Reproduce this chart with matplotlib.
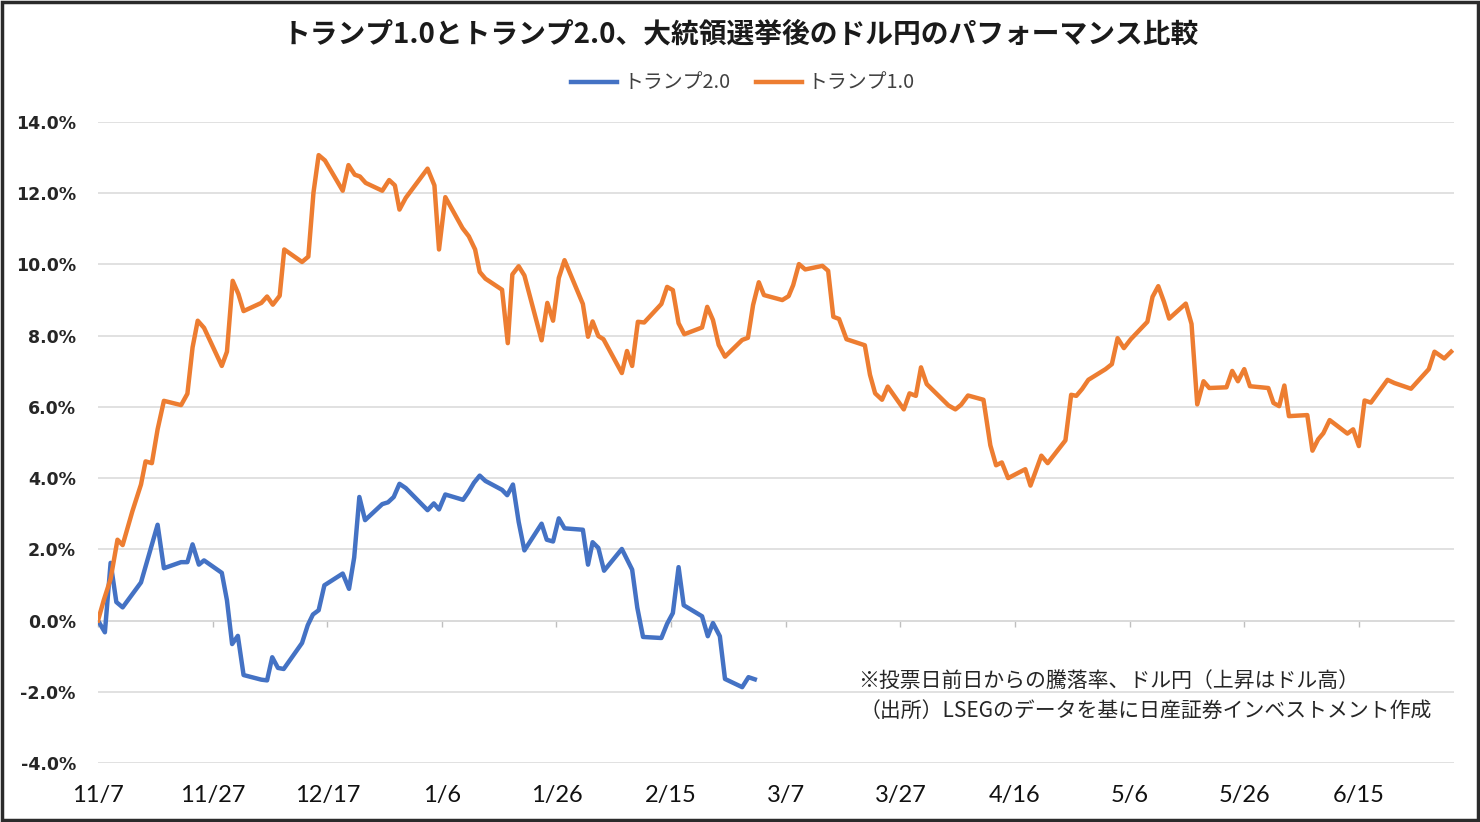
import numpy as np
import matplotlib
matplotlib.use("Agg")
import matplotlib.pyplot as plt
from matplotlib.patches import Rectangle

# Days elapsed since 11/7 and percent change of USD/JPY
trump1_days = [
    0.0, 1.0, 2.2, 3.4, 4.3, 6.0, 7.5, 8.3, 9.4, 10.4, 11.5, 14.5, 15.6, 16.5, 17.4, 18.5,
    21.6, 22.5, 23.5, 24.5, 25.4, 28.5, 29.5, 30.5, 31.7, 32.5, 35.6, 36.7, 37.6, 38.5,
    39.6, 42.7, 43.7, 44.8, 45.7, 46.7, 49.6, 50.8, 51.8, 52.6, 53.7, 57.5, 58.7, 59.5,
    60.6, 63.6, 64.7, 65.8, 66.6, 67.6, 70.5, 71.5, 72.3, 73.4, 74.4, 77.4, 78.4, 79.4,
    80.4, 81.4, 84.6, 85.5, 86.3, 87.3, 88.2, 91.4, 92.3, 93.2, 94.2, 95.3, 98.3, 99.3,
    100.3, 101.3, 102.3, 105.4, 106.3, 107.3, 108.3, 109.4, 112.4, 113.4, 114.3, 115.3,
    116.2, 119.4, 120.5, 121.3, 122.3, 123.4, 126.4, 127.4, 128.3, 129.3, 130.6, 133.8,
    134.7, 135.6, 136.8, 137.8, 140.6, 141.6, 142.7, 143.6, 144.6, 148.4, 149.6, 150.6,
    151.8, 154.5, 155.7, 156.7, 157.7, 158.8, 161.8, 162.7, 164.6, 165.7, 168.8, 169.8,
    170.7, 171.7, 172.8, 175.8, 176.9, 177.9, 179.0, 180.2, 183.1, 184.0, 185.0, 186.0,
    186.9, 189.8, 190.8, 191.8, 192.9, 193.9, 196.9, 197.9, 198.9, 200.0, 201.0, 204.2,
    205.1, 206.1, 207.0, 207.8, 211.0, 211.9, 212.9, 213.8, 214.9, 218.0, 219.0, 220.0,
    221.0, 222.1, 225.0, 226.2, 229.1, 232.2, 233.2, 234.9, 236.1,
]
trump1_pct = [
    0.00, 0.57, 1.17, 2.27, 2.12, 3.07, 3.82, 4.47, 4.42, 5.37, 6.17, 6.05, 6.37, 7.67, 8.42, 8.22,
    7.15, 7.55, 9.54, 9.17, 8.69, 8.92, 9.10, 8.87, 9.12, 10.42, 10.07, 10.22, 12.02, 13.07,
    12.92, 12.07, 12.79, 12.52, 12.47, 12.29, 12.07, 12.37, 12.22, 11.54, 11.87, 12.69, 12.22, 10.42,
    11.89, 11.02, 10.79, 10.42, 9.79, 9.60, 9.29, 7.79, 9.72, 9.95, 9.69, 7.87, 8.92, 8.42,
    9.62, 10.12, 8.89, 7.97, 8.40, 7.99, 7.90, 6.95, 7.57, 7.15, 8.39, 8.37, 8.89, 9.37,
    9.28, 8.35, 8.04, 8.23, 8.81, 8.44, 7.74, 7.41, 7.88, 7.94, 8.86, 9.50,
    9.14, 9.00, 9.11, 9.42, 10.01, 9.86, 9.96, 9.82, 8.53, 8.47, 7.90, 7.73,
    6.90, 6.38, 6.20, 6.57, 5.93, 6.38, 6.31, 7.11, 6.64, 6.04, 5.93, 6.06,
    6.32, 6.20, 4.92, 4.36, 4.44, 4.00, 4.25, 3.79, 4.63, 4.42, 5.06, 6.34,
    6.31, 6.50, 6.76, 7.06, 7.20, 7.93, 7.65, 7.90, 8.39, 9.09, 9.39, 8.95,
    8.48, 8.90, 8.33, 6.07, 6.72, 6.53, 6.55, 7.01, 6.72, 7.06, 6.58, 6.53,
    6.11, 6.02, 6.60, 5.74, 5.77, 4.77, 5.09, 5.26, 5.63, 5.25, 5.37, 4.90,
    6.18, 6.12, 6.76, 6.67, 6.51, 7.06, 7.55, 7.36, 7.55,
]

trump2_days = [
    0.0, 1.2, 2.2, 3.2, 4.3, 7.5, 10.4, 11.5, 14.5, 15.6, 16.5, 17.6, 18.5, 21.6, 22.5, 23.4,
    24.4, 25.4, 28.5, 29.5, 30.4, 31.4, 32.4, 35.6, 36.6, 37.5, 38.5, 39.5, 42.7, 43.8,
    44.7, 45.6, 46.6, 49.6, 50.6, 51.6, 52.6, 53.7, 57.5, 58.6, 59.5, 60.6, 63.7, 64.6,
    65.6, 66.6, 67.6, 70.5, 71.4, 72.4, 73.4, 74.4, 77.4, 78.3, 79.4, 80.4, 81.4, 84.6,
    85.5, 86.3, 87.3, 88.3, 91.4, 93.2, 94.1, 95.1, 98.3, 99.3, 100.3, 101.3, 102.2, 105.4,
    106.4, 107.3, 108.5, 109.4, 112.4, 113.5, 114.6,
]
trump2_pct = [
    0.00, -0.33, 1.62, 0.52, 0.37, 1.07, 2.69, 1.47, 1.64, 1.64, 2.14, 1.57, 1.69, 1.34, 0.57, -0.66,
    -0.43, -1.53, -1.66, -1.68, -1.03, -1.33, -1.36, -0.63, -0.13, 0.17, 0.29, 0.99, 1.32, 0.89,
    1.77, 3.47, 2.82, 3.27, 3.32, 3.47, 3.84, 3.72, 3.10, 3.29, 3.12, 3.54, 3.39, 3.60,
    3.87, 4.07, 3.92, 3.67, 3.52, 3.82, 2.77, 1.97, 2.72, 2.27, 2.22, 2.87, 2.59, 2.55,
    1.57, 2.20, 2.04, 1.40, 2.01, 1.43, 0.36, -0.46, -0.49, -0.09, 0.21, 1.50, 0.43, 0.12,
    -0.44, -0.07, -0.44, -1.64, -1.87, -1.59, -1.65,
]

tick_days = [0, 20, 40, 60, 80, 100, 120, 140, 160, 180, 200, 220]
tick_labels = ["11/7", "11/27", "12/17", "1/6", "1/26", "2/15", "3/7", "3/27",
               "4/16", "5/6", "5/26", "6/15"]
y_ticks = [-4, -2, 0, 2, 4, 6, 8, 10, 12, 14]

title = "トランプ1.0とトランプ2.0、大統領選挙後のドル円のパフォーマンス比較"
note1 = "※投票日前日からの騰落率、ドル円（上昇はドル高）"
note2 = "（出所）LSEGのデータを基に日産証券インベストメント作成"

jp = ["Noto Sans CJK JP", "DejaVu Sans"]
W, H = 1480, 822

fig = plt.figure(figsize=(W / 100, H / 100), dpi=100)
ax = fig.add_axes([98 / W, 1 - 763 / H, (1454 - 98) / W, (763 - 122) / H])

ax.plot(trump2_days, trump2_pct, color="#4472C4", lw=3.2, label="トランプ2.0",
        solid_joinstyle="round", zorder=3)
ax.plot(trump1_days, trump1_pct, color="#ED7D31", lw=3.2, label="トランプ1.0",
        solid_joinstyle="round", zorder=3)

ax.set_xlim(0, 236.6)
ax.set_ylim(-4, 14)
ax.set_yticks(y_ticks)
ax.set_yticklabels([f"{v:.1f}%" for v in y_ticks], fontsize=12.5, fontweight="bold",
                   family="DejaVu Sans", color="#262626")
ax.set_xticks(tick_days)
ax.set_xticklabels(tick_labels, fontsize=17, family="Lato", color="#111111")
ax.tick_params(axis="both", length=0)
ax.tick_params(axis="y", pad=16)
ax.tick_params(axis="x", pad=16)
ax.grid(axis="y", color="#d9d9d9", lw=1.1)
ax.set_axisbelow(True)
for s in ax.spines.values():
    s.set_visible(False)

# small tick marks on the 0% line
sec = ax.secondary_xaxis(4 / 18)
sec.set_xticks(tick_days)
sec.set_xticklabels([])
sec.tick_params(length=4, width=1, color="#bfbfbf", direction="out")
sec.spines["bottom"].set_color("#d9d9d9")
sec.spines["bottom"].set_linewidth(1.1)

fig.text(741 / W, 1 - 35 / H, title, ha="center", va="center", fontsize=20,
         fontweight="bold", family=jp, color="#1a1a1a")

leg = fig.legend(loc="center", bbox_to_anchor=(743 / W, 1 - 83 / H), ncol=2,
                 frameon=False, prop={"family": jp, "size": 14.3},
                 handlelength=2.3, handletextpad=0.3, columnspacing=1.3)
for t in leg.get_texts():
    t.set_color("#404040")

fig.text(858 / W, 1 - 681 / H, note1, ha="left", va="center", fontsize=15,
         family=jp, color="#262626")
fig.text(860 / W, 1 - 711 / H, note2, ha="left", va="center", fontsize=15,
         family=jp, color="#262626")

# dark frame around the whole picture
fig.patches.append(Rectangle((0.0015, 0.0025), 0.997, 0.995, transform=fig.transFigure,
                             fill=False, edgecolor="#2b2b2b", lw=2.5))

fig.savefig("out.png", dpi=100)
